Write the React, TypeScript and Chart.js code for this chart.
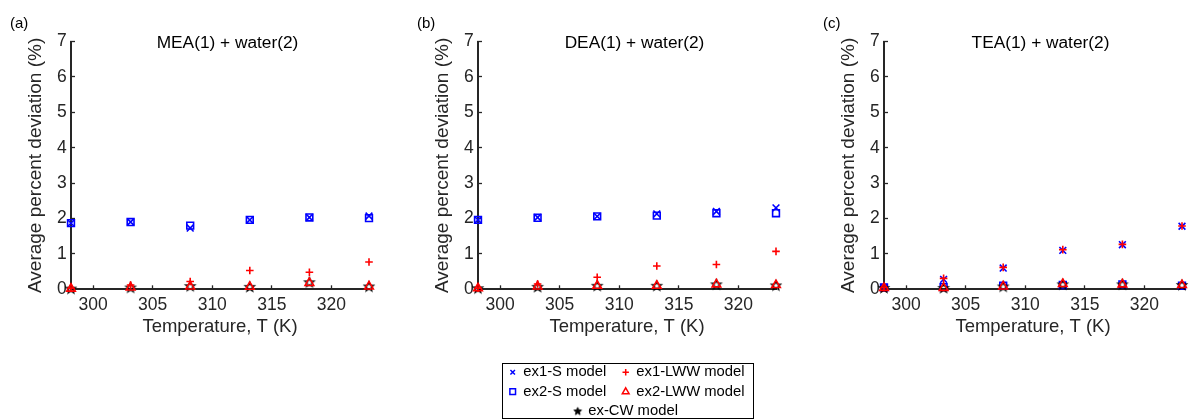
import React, { useEffect, useRef } from 'react';
import { Chart, registerables } from 'chart.js';
import { drawPoint } from 'chart.js/helpers';

Chart.register(...registerables);

// ---------------- data ----------------
const temperatures = [298.15, 303.15, 308.15, 313.15, 318.15, 323.15];
const xTickValues = [300, 305, 310, 315, 320];
const yTickValues = [0, 1, 2, 3, 4, 5, 6, 7];

const panelLetters = ['(a)', '(b)', '(c)'];
const panelTitles = ['MEA(1) + water(2)', 'DEA(1) + water(2)', 'TEA(1) + water(2)'];
const seriesLabels = ['ex1-S model', 'ex2-S model', 'ex1-LWW model', 'ex2-LWW model', 'ex-CW model'];

// MEA(1) + water(2)
const meaEx1S = [1.87, 1.9, 1.73, 1.96, 2.03, 2.07];
const meaEx2S = [1.87, 1.9, 1.8, 1.96, 2.03, 2.01];
const meaEx1LWW = [0.03, 0.12, 0.22, 0.53, 0.48, 0.77];
const meaEx2LWW = [0.02, 0.05, 0.08, 0.07, 0.18, 0.08];
const meaExCW = [0.02, 0.05, 0.09, 0.07, 0.2, 0.08];

// DEA(1) + water(2)
const deaEx1S = [1.96, 2.03, 2.06, 2.13, 2.2, 2.3];
const deaEx2S = [1.96, 2.02, 2.06, 2.08, 2.15, 2.15];
const deaEx1LWW = [0.03, 0.15, 0.34, 0.66, 0.7, 1.07];
const deaEx2LWW = [0.03, 0.08, 0.1, 0.1, 0.14, 0.12];
const deaExCW = [0.03, 0.07, 0.1, 0.1, 0.14, 0.11];

// TEA(1) + water(2)
const teaEx1S = [0.05, 0.28, 0.6, 1.1, 1.26, 1.78];
const teaEx2S = [0.05, 0.06, 0.1, 0.12, 0.14, 0.1];
const teaEx1LWW = [0.05, 0.31, 0.62, 1.12, 1.27, 1.79];
const teaEx2LWW = [0.04, 0.04, 0.08, 0.15, 0.14, 0.12];
const teaExCW = [0.04, 0.04, 0.08, 0.14, 0.14, 0.12];

const panelSeries = [
  [meaEx1S, meaEx2S, meaEx1LWW, meaEx2LWW, meaExCW],
  [deaEx1S, deaEx2S, deaEx1LWW, deaEx2LWW, deaExCW],
  [teaEx1S, teaEx2S, teaEx1LWW, teaEx2LWW, teaExCW],
];

// ---------------- styles ----------------
const FONT = '"Liberation Sans", Arial, Helvetica, sans-serif';
const AXIS_COLOR = '#262626';
const seriesColors = ['#0000ff', '#0000ff', '#ff0000', '#ff0000', '#000000'];
const seriesStyles = ['crossRot', 'rect', 'cross', 'triangle', 'star'];
const seriesRadius = [4.8, 4.8, 3.8, 5, 5];
const legendRadius = [3.2, 4, 3.2, 3.9, 4];
const seriesOrder = [5, 4, 2, 1, 3]; // lower = drawn on top

function makeStarCanvas(outerR: number, lineWidth: number, color: string, filled: boolean) {
  const size = Math.ceil(outerR * 2 + lineWidth * 2 + 3);
  const c = document.createElement('canvas');
  c.width = size;
  c.height = size;
  const g = c.getContext('2d')!;
  const cx = size / 2;
  const cy = size / 2 + 0.4;
  const innerR = outerR * 0.42;
  g.beginPath();
  for (let i = 0; i < 10; i++) {
    const r = i % 2 === 0 ? outerR : innerR;
    const a = -Math.PI / 2 + (i * Math.PI) / 5;
    const px = cx + r * Math.cos(a);
    const py = cy + r * Math.sin(a);
    if (i === 0) g.moveTo(px, py);
    else g.lineTo(px, py);
  }
  g.closePath();
  if (filled) {
    g.fillStyle = color;
    g.fill();
  }
  g.strokeStyle = color;
  g.lineWidth = lineWidth;
  g.lineJoin = 'miter';
  g.stroke();
  return c;
}

const panelTextPlugin = {
  id: 'panelText',
  afterDraw(chart: any, _args: any, opts: any) {
    const { ctx, chartArea } = chart;
    ctx.save();
    ctx.textBaseline = 'alphabetic';
    ctx.fillStyle = '#000';
    ctx.font = `15px ${FONT}`;
    ctx.textAlign = 'left';
    ctx.fillText(opts.letter, chartArea.left - 61, 28);
    ctx.font = `17.3px ${FONT}`;
    ctx.textAlign = 'center';
    ctx.fillText(opts.title, chartArea.left + 156.5, 47.5);
    ctx.restore();
  },
};

const boxedLegendPlugin = {
  id: 'boxedLegend',
  afterDraw(chart: any, _args: any, opts: any) {
    if (!opts || !opts.display) return;
    const ctx = chart.ctx;
    ctx.save();
    ctx.strokeStyle = '#000';
    ctx.lineWidth = 1;
    ctx.strokeRect(opts.left + 0.5, opts.top + 0.5, opts.width, opts.height);
    ctx.font = `14.8px ${FONT}`;
    ctx.textBaseline = 'middle';
    ctx.textAlign = 'left';
    for (const item of opts.items) {
      const k = item.index;
      ctx.strokeStyle = seriesColors[k];
      ctx.fillStyle = 'rgba(0,0,0,0)';
      ctx.lineWidth = 1.5;
      drawPoint(
        ctx,
        {
          pointStyle: k === 4 ? opts.star : seriesStyles[k],
          radius: legendRadius[k],
          borderWidth: 1.5,
          rotation: 0,
        } as any,
        item.x,
        item.y
      );
      ctx.fillStyle = '#000';
      ctx.fillText(seriesLabels[k], item.x + opts.textGap, item.y);
    }
    ctx.restore();
  },
};

function buildConfig(p: number, star: HTMLCanvasElement, legendStar: HTMLCanvasElement, withLegend: boolean): any {
  const datasets = panelSeries[p].map((vals, k) => ({
    label: seriesLabels[k],
    data: temperatures.map((t, j) => ({ x: t, y: vals[j] })),
    pointStyle: k === 4 ? star : seriesStyles[k],
    pointRadius: seriesRadius[k],
    pointBorderWidth: 1.6,
    borderColor: seriesColors[k],
    pointBorderColor: seriesColors[k],
    backgroundColor: 'rgba(0,0,0,0)',
    pointBackgroundColor: 'rgba(0,0,0,0)',
    showLine: false,
    clip: false,
    order: seriesOrder[k],
  }));

  return {
    type: 'scatter',
    data: { datasets },
    plugins: [panelTextPlugin, boxedLegendPlugin],
    options: {
      responsive: false,
      maintainAspectRatio: false,
      devicePixelRatio: 1,
      animation: false,
      events: [],
      layout: { padding: { left: 0, right: 10, top: 41.5, bottom: 70.7 } },
      plugins: {
        legend: { display: false },
        title: { display: false },
        tooltip: { enabled: false },
        panelText: { letter: panelLetters[p], title: panelTitles[p] },
        boxedLegend: withLegend
          ? {
              display: true,
              left: 95,
              top: 363,
              width: 251,
              height: 55,
              textGap: 10.6,
              star: legendStar,
              items: [
                { index: 0, x: 105.7, y: 372.3 },
                { index: 2, x: 218.7, y: 372.3 },
                { index: 1, x: 105.7, y: 391.7 },
                { index: 3, x: 218.7, y: 391.7 },
                { index: 4, x: 170.7, y: 411 },
              ],
            }
          : { display: false },
      },
      scales: {
        x: {
          type: 'linear',
          min: temperatures[0],
          max: temperatures[temperatures.length - 1],
          afterBuildTicks: (s: any) => {
            s.ticks = xTickValues.map((v) => ({ value: v }));
          },
          afterFit: (s: any) => {
            s.height = 60;
          },
          border: { display: true, color: AXIS_COLOR, width: 2 },
          grid: {
            display: true,
            drawOnChartArea: false,
            drawTicks: true,
            tickLength: -4,
            tickColor: AXIS_COLOR,
            tickWidth: 1.3,
            color: AXIS_COLOR,
          },
          ticks: {
            color: AXIS_COLOR,
            font: { family: FONT, size: 17.5 },
            padding: 9.4,
            maxRotation: 0,
            autoSkip: false,
          },
          title: {
            display: true,
            text: 'Temperature, T (K)',
            color: AXIS_COLOR,
            font: { family: FONT, size: 18.5 },
            padding: { top: 0, bottom: 11.5 },
          },
        },
        y: {
          type: 'linear',
          min: yTickValues[0],
          max: yTickValues[yTickValues.length - 1],
          afterBuildTicks: (s: any) => {
            s.ticks = yTickValues.map((v) => ({ value: v }));
          },
          afterFit: (s: any) => {
            s.width = 71;
          },
          border: { display: true, color: AXIS_COLOR, width: 2 },
          grid: {
            display: true,
            drawOnChartArea: false,
            drawTicks: true,
            tickLength: -4,
            tickColor: AXIS_COLOR,
            tickWidth: 1.3,
            color: AXIS_COLOR,
          },
          ticks: {
            color: AXIS_COLOR,
            font: { family: FONT, size: 17.5 },
            padding: 8.3,
            autoSkip: false,
          },
          title: {
            display: true,
            text: 'Average percent deviation (%)',
            color: AXIS_COLOR,
            font: { family: FONT, size: 19 },
            padding: { top: 24.1, bottom: 0 },
          },
        },
      },
    },
  };
}

const canvasLefts = [0, 407, 813];

export default function App() {
  const refA = useRef<HTMLCanvasElement>(null);
  const refB = useRef<HTMLCanvasElement>(null);
  const refC = useRef<HTMLCanvasElement>(null);

  useEffect(() => {
    const star = makeStarCanvas(5, 1.2, '#000', false);
    const legendStar = makeStarCanvas(4, 1, '#000', true);
    const refs = [refA, refB, refC];
    const charts = refs.map(
      (r, i) => new Chart(r.current as HTMLCanvasElement, buildConfig(i, star, legendStar, i === 1))
    );
    return () => charts.forEach((c) => c.destroy());
  }, []);

  const refs = [refA, refB, refC];
  return (
    <div
      style={{
        position: 'absolute',
        left: 0,
        top: 0,
        width: 1192,
        height: 420,
        background: '#ffffff',
        overflow: 'hidden',
      }}
    >
      {refs.map((r, i) => (
        <canvas
          key={i}
          ref={r}
          width={379}
          height={420}
          style={{ position: 'absolute', left: canvasLefts[i], top: 0, width: 379, height: 420 }}
        />
      ))}
    </div>
  );
}
